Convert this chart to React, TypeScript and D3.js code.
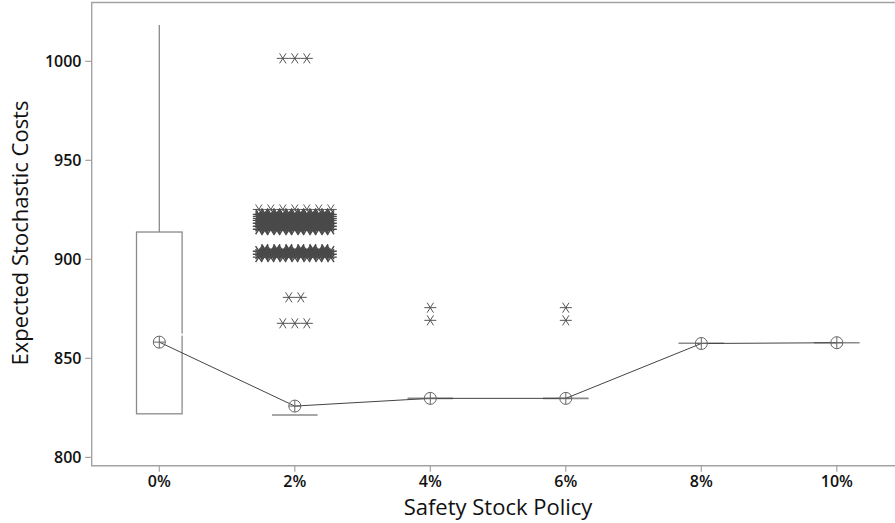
import React from "react";
import * as d3 from "d3";

const categories = ["0%", "2%", "4%", "6%", "8%", "10%"];
const q1 = [822, 821.4, 829.8, 829.8, 857.6, 857.9];
const medians = [862, 821.4, 829.8, 829.8, 857.6, 857.9];
const q3 = [913.8, 821.4, 829.8, 829.8, 857.6, 857.9];
const whiskerLow = [822, 821.4, 829.8, 829.8, 857.6, 857.9];
const whiskerHigh = [1018.3, 821.4, 829.8, 829.8, 857.6, 857.9];
const means = [858.2, 825.9, 829.8, 829.8, 857.5, 857.9];

// outliers: [category index, value, count of coincident points]
const outliers: [number, number, number][] = [
  [1, 1001.5, 3],
  [1, 925.2, 7],
  [1, 923.2, 6],
  [1, 922.7, 7],
  [1, 922.2, 6],
  [1, 921.7, 7],
  [1, 921.2, 6],
  [1, 920.7, 7],
  [1, 920.2, 6],
  [1, 919.7, 7],
  [1, 919.2, 6],
  [1, 918.7, 6],
  [1, 918.2, 7],
  [1, 917.7, 6],
  [1, 917.2, 6],
  [1, 916.7, 7],
  [1, 916.2, 6],
  [1, 915.7, 6],
  [1, 915.2, 7],
  [1, 914.7, 6],
  [1, 905.1, 6],
  [1, 904.6, 6],
  [1, 904.1, 7],
  [1, 903.6, 6],
  [1, 903.1, 6],
  [1, 902.6, 7],
  [1, 902.1, 6],
  [1, 901.6, 6],
  [1, 901.1, 7],
  [1, 880.8, 2],
  [1, 867.7, 3],
  [2, 875.6, 1],
  [2, 869.2, 1],
  [3, 875.6, 1],
  [3, 869.2, 1],
];

const yTicks = [800, 850, 900, 950, 1000];

const W = 895;
const H = 523;
const plotLeft = 91.7;
const plotTop = 2.5;
const plotBottom = 465.7;

const x = d3.scalePoint<string>().domain(categories).range([159.3, 836.8]);
const y = d3.scaleLinear().domain([795.8, 1029.7]).range([plotBottom, plotTop]);

const boxHalf = 22.8;
const starStep = 12;
const gray = "#8a8a8a";
const font = "'Open Sans', 'DejaVu Sans', sans-serif";

function Star({ cx, cy, dense }: { cx: number; cy: number; dense: boolean }) {
  const hw = 6;
  const dx = 3.2;
  const dy = 5;
  return (
    <path
      d={`M${cx - hw},${cy}H${cx + hw}M${cx - dx},${cy - dy}L${cx + dx},${cy + dy}M${cx + dx},${cy - dy}L${cx - dx},${cy + dy}`}
      stroke={dense ? "#4a4a4a" : "#555"}
      strokeWidth={dense ? 1.4 : 1}
      fill="none"
    />
  );
}

export default function App() {
  const meanLine = d3
    .line<number>()
    .x((_, i) => x(categories[i]) as number)
    .y((d) => y(d))(means);

  return (
    <svg
      width={W}
      height={H}
      style={{ position: "absolute", left: 0, top: 0, background: "#fff" }}
    >
      <rect x={0} y={0} width={W} height={H} fill="#fff" />
      {/* frame */}
      <path
        d={`M${W + 5},${plotTop}H${plotLeft}V${plotBottom}H${W + 5}`}
        stroke="#a3a3a3"
        strokeWidth={1.4}
        fill="none"
      />
      {/* y ticks */}
      {yTicks.map((t) => (
        <g key={t}>
          <line x1={plotLeft - 6.5} x2={plotLeft} y1={y(t)} y2={y(t)} stroke="#a3a3a3" strokeWidth={1.2} />
          <text
            x={81.5}
            y={y(t)}
            dy="0.36em"
            textAnchor="end"
            fontFamily={font}
            fontWeight={600}
            fontSize={16}
            fill="#111"
          >
            {t}
          </text>
        </g>
      ))}
      {/* x ticks */}
      {categories.map((c) => (
        <g key={c}>
          <line x1={x(c)} x2={x(c)} y1={plotBottom} y2={plotBottom + 6} stroke="#a3a3a3" strokeWidth={1.2} />
          <text
            x={x(c)}
            y={486.5}
            textAnchor="middle"
            fontFamily={font}
            fontWeight={600}
            fontSize={16}
            fill="#111"
          >
            {c}
          </text>
        </g>
      ))}
      {/* axis titles */}
      <text x={498} y={515} textAnchor="middle" fontFamily={font} fontSize={22} fill="#111">
        Safety Stock Policy
      </text>
      <text
        transform={`translate(28,233) rotate(-90)`}
        textAnchor="middle"
        fontFamily={font}
        fontSize={22}
        fill="#111"
      >
        Expected Stochastic Costs
      </text>
      {/* boxes */}
      {categories.map((c, i) => {
        const cx = x(c) as number;
        const top = y(q3[i]);
        const bot = y(q1[i]);
        return (
          <g key={c}>
            {whiskerHigh[i] > q3[i] && (
              <line x1={cx} x2={cx} y1={y(whiskerHigh[i])} y2={top} stroke={gray} strokeWidth={1.3} />
            )}
            {whiskerLow[i] < q1[i] && (
              <line x1={cx} x2={cx} y1={y(whiskerLow[i])} y2={bot} stroke={gray} strokeWidth={1.3} />
            )}
            {q3[i] > q1[i] ? (
              <>
                <rect
                  x={cx - boxHalf}
                  y={top}
                  width={boxHalf * 2}
                  height={bot - top}
                  fill="none"
                  stroke={gray}
                  strokeWidth={1.3}
                />
                <line
                  x1={cx + boxHalf - 1}
                  x2={cx + boxHalf + 1}
                  y1={y(medians[i])}
                  y2={y(medians[i])}
                  stroke="#fff"
                  strokeWidth={2}
                />
              </>
            ) : (
              <line x1={cx - boxHalf} x2={cx + boxHalf} y1={top} y2={top} stroke={gray} strokeWidth={1.6} />
            )}
          </g>
        );
      })}
      {/* outliers */}
      {outliers.map(([ci, v, n], k) => {
        const cx = x(categories[ci]) as number;
        const cy = y(v);
        const dense = n >= 6 && v < 924;
        return (
          <g key={k}>
            {d3.range(n).map((j) => (
              <Star key={j} cx={cx + (j - (n - 1) / 2) * starStep} cy={cy} dense={dense} />
            ))}
          </g>
        );
      })}
      {/* mean connect line */}
      <path d={meanLine ?? ""} stroke="#444" strokeWidth={1} fill="none" />
      {/* mean symbols */}
      {categories.map((c, i) => {
        const cx = x(c) as number;
        const cy = y(means[i]);
        const r = 6;
        return (
          <g key={c} stroke="#666" strokeWidth={1} fill="none">
            <circle cx={cx} cy={cy} r={r} />
            <line x1={cx - r} x2={cx + r} y1={cy} y2={cy} />
            <line x1={cx} x2={cx} y1={cy - r} y2={cy + r} />
          </g>
        );
      })}
    </svg>
  );
}
